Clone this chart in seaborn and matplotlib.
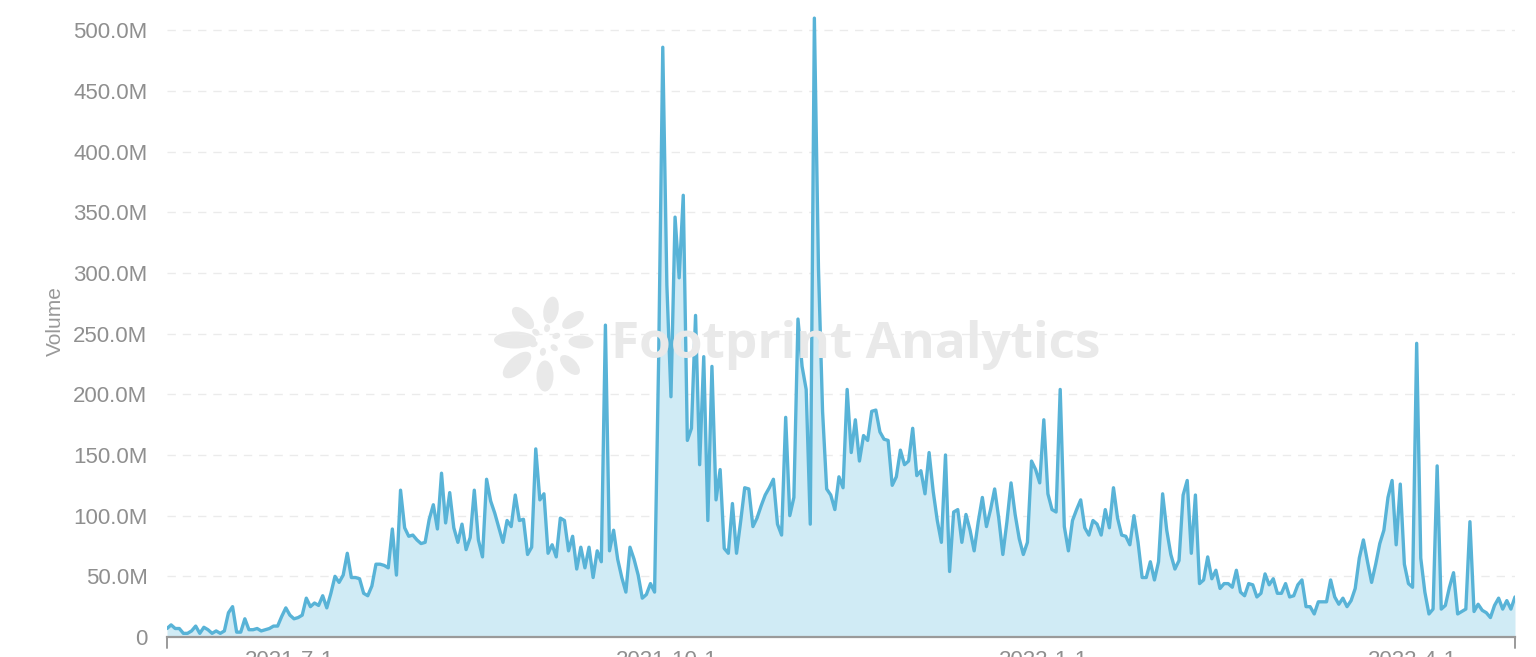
import numpy as np
import pandas as pd
import seaborn as sns
import matplotlib.pyplot as plt
from matplotlib.patches import Ellipse
from matplotlib.ticker import FuncFormatter, MultipleLocator

# daily volume in millions, starting 2021-06-01
start_date = "2021-06-01"

vol_jun_aug = [
    7, 10, 7, 7, 3, 3, 5, 9, 3, 8,
    6, 3, 5, 3, 5, 20, 25, 4, 4,
    15, 6, 6, 7, 5, 6, 7, 9, 9, 17,
    24, 18, 15, 16, 18, 32, 25, 28, 26, 34,
    24, 36, 50, 45, 51, 69, 49, 49, 48, 36,
    34, 42, 60, 60, 59, 57, 89, 51, 121, 90,
    83, 84, 80, 77, 78, 97, 109, 89, 135, 94,
    119, 90, 78, 93, 72, 82, 121, 80, 66, 130,
    112, 102, 90,
]

vol_aug_nov = [
    78, 96, 91, 117, 96, 97, 68, 74, 155, 113,
    118, 69, 76, 66, 98, 96, 71, 83, 56, 74,
    57, 74, 49, 71, 62, 257, 71, 88, 64, 49,
    37, 74, 64, 51, 32, 35, 44, 37, 230, 486,
    290, 198, 346, 296, 364, 162, 172, 265, 142, 231,
    96, 223, 113, 138, 73, 69, 110, 69, 95, 123,
    122, 91, 98, 108, 117, 123, 130, 93, 84, 181,
    100, 115, 262, 223, 204, 93, 510, 304, 186, 122,
    117, 105, 132,
]

vol_nov_feb = [
    123, 204, 152, 179, 145, 166, 162, 186, 187, 169,
    163, 162, 125, 132, 154, 142, 145, 172, 133, 137,
    118, 152, 120, 96, 78, 150, 54, 103, 105, 78,
    101, 88, 71, 95, 115, 91, 105, 122, 98, 68,
    95, 127, 101, 81, 68, 78, 145, 138, 127, 179,
    118, 105, 103, 204, 91, 71, 96, 105, 113, 90,
    84, 96, 93, 84, 105, 90, 123, 98, 84, 83,
    76, 100, 78, 49, 49, 62, 47, 62, 118, 88,
    68,
]

vol_feb_apr = [
    56, 63, 117, 129, 69, 117, 44, 47, 66, 48,
    55, 40, 44, 44, 41, 55, 37, 34, 44, 43,
    33, 36, 52, 43, 48, 36, 36, 44, 33, 34,
    43, 47, 25, 25, 19, 29, 29, 29, 47, 33,
    27, 32, 25, 30, 40, 65, 80, 62, 45, 60,
    77, 88, 115, 129, 76, 126, 60, 44, 41, 242,
    65, 37, 19, 23, 141, 23, 26, 41, 53, 19,
    21, 23, 95, 21, 27, 22, 20, 16, 26, 32,
    23, 30, 23, 33,
]

tick_dates = ["2021-07-01", "2021-10-01", "2022-01-01", "2022-04-01"]
tick_labels = ["2021-7-1", "2021-10-1", "2022-1-1", "2022-4-1"]

volume_m = vol_jun_aug + vol_aug_nov + vol_nov_feb + vol_feb_apr
dates = pd.date_range(start_date, periods=len(volume_m), freq="D")
df = pd.DataFrame({"date": dates, "volume": np.array(volume_m) * 1e6})

line_color = "#58b3d7"
fill_color = "#d0ebf5"
text_grey = "#999999"
mark_grey = "#e9e9e9"

sns.set_theme(style="white")
plt.rcParams["font.family"] = ["Liberation Sans", "DejaVu Sans"]

fig = plt.figure(figsize=(15.36, 6.57), dpi=100)
ax = fig.add_axes([167 / 1536, 20 / 657, 1348 / 1536, 631 / 657])
ax.patch.set_alpha(0)

# watermark (logo petals + text)
cx, cy = 5.45, (657 - 340) / 100
petals = [(-30, 0, 42, 17), (-22, 22, 28, 14), (6, 30, 27, 15), (28, 20, 25, 13),
          (36, -2, 25, 13), (25, -25, 25, 13), (0, -36, 31, 17), (-28, -25, 35, 17)]
for dx, dy, w, h in petals:
    ang = np.degrees(np.arctan2(dy, dx))
    ax.add_patch(Ellipse((cx + dx / 100, cy + dy / 100), w / 100, h / 100, angle=ang,
                         transform=fig.dpi_scale_trans, color=mark_grey, lw=0,
                         clip_on=False, zorder=0.5))
for a in range(0, 360, 60):
    r = np.radians(a + 20)
    ax.add_patch(Ellipse((cx + 0.12 * np.cos(r), cy + 0.12 * np.sin(r)), 0.08, 0.06,
                         angle=a + 20, transform=fig.dpi_scale_trans, color=mark_grey,
                         lw=0, clip_on=False, zorder=0.5))
fig.text(856 / 1536, (657 - 345) / 657, "Footprint Analytics", family="Open Sans",
         fontweight="bold", fontsize=37, color=mark_grey, ha="center", va="center",
         zorder=0.5)

ax.fill_between(df["date"], df["volume"], color=fill_color, lw=0, zorder=1)
sns.lineplot(data=df, x="date", y="volume", color=line_color, linewidth=2.4,
             ax=ax, zorder=3)

ax.set_xlim(dates[0], dates[-1])
ax.set_ylim(0, 520e6)

ax.yaxis.set_major_locator(MultipleLocator(50e6))
ax.yaxis.set_major_formatter(FuncFormatter(lambda v, p: "0" if v == 0 else f"{v / 1e6:.1f}M"))
ax.set_xticks(pd.to_datetime(tick_dates))
ax.set_xticklabels(tick_labels)

ax.grid(axis="y", color="#ebebeb", linewidth=1, linestyle=(0, (6, 5)), zorder=0)
ax.tick_params(axis="both", length=0, labelsize=16, labelcolor="#8f8f8f")
ax.tick_params(axis="y", pad=14)
ax.tick_params(axis="x", pad=9)

for s in ["top", "right", "left"]:
    ax.spines[s].set_visible(False)
ax.spines["bottom"].set_color("#9a9a9a")
ax.spines["bottom"].set_linewidth(1.6)
for xe in (0, 1):
    ax.plot([xe, xe], [0, -0.017], transform=ax.transAxes, color="#9a9a9a",
            lw=1.4, clip_on=False)

ax.set_xlabel("")
ax.set_ylabel("Volume", fontsize=15, color=text_grey, labelpad=6)

fig.savefig("out.png", dpi=100)
